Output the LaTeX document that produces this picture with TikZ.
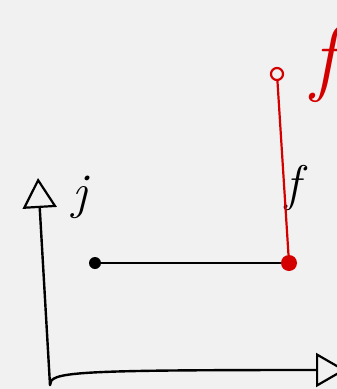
\documentclass[tikz,border=0pt]{standalone}
\usetikzlibrary{arrows.meta}
\definecolor{bg}{HTML}{F1F1F1}
\definecolor{ink}{HTML}{D40000}
\tikzset{
  axis/.style={line width=2.4pt,line cap=round,-{Triangle[open,length=30pt,width=34pt,line width=2.2pt]}},
  hand/.style={inner sep=0pt,font=\fontsize{50}{50}\selectfont\itshape},
}
\begin{document}
\begin{tikzpicture}[x=1pt,y=-1pt]
	\fill[bg] (0,0) rectangle (337,389);
	\useasboundingbox (0,0) rectangle (337,389);

	\coordinate (o) at (50,385);
	\coordinate (ytop) at (38,178);
	\coordinate (xend) at (346,370);
	\draw[axis] (o) -- (ytop);
	\draw[axis] (o) .. controls (50,372) and (70,370) .. (xend);

	\node[hand] (j) at (80,197) {j};
	\node[hand] (f) at (293,188) {f};
	\node[hand,ink,font=\fontsize{84}{84}\selectfont\itshape] (fr) at (324,64) {f};

	\node[circle,fill=black,minimum size=12pt,inner sep=0pt] (a) at (95,263) {};
	\node[circle,fill=ink,minimum size=16pt,inner sep=0pt] (b) at (289,263) {};
	\node[circle,draw=ink,line width=2.2pt,minimum size=12pt,inner sep=0pt] (c) at (277,74) {};

	\draw[line width=2.2pt] (a) -- (b);
	\draw[ink,line width=2.2pt] (b) -- (c);
\end{tikzpicture}
\end{document}
